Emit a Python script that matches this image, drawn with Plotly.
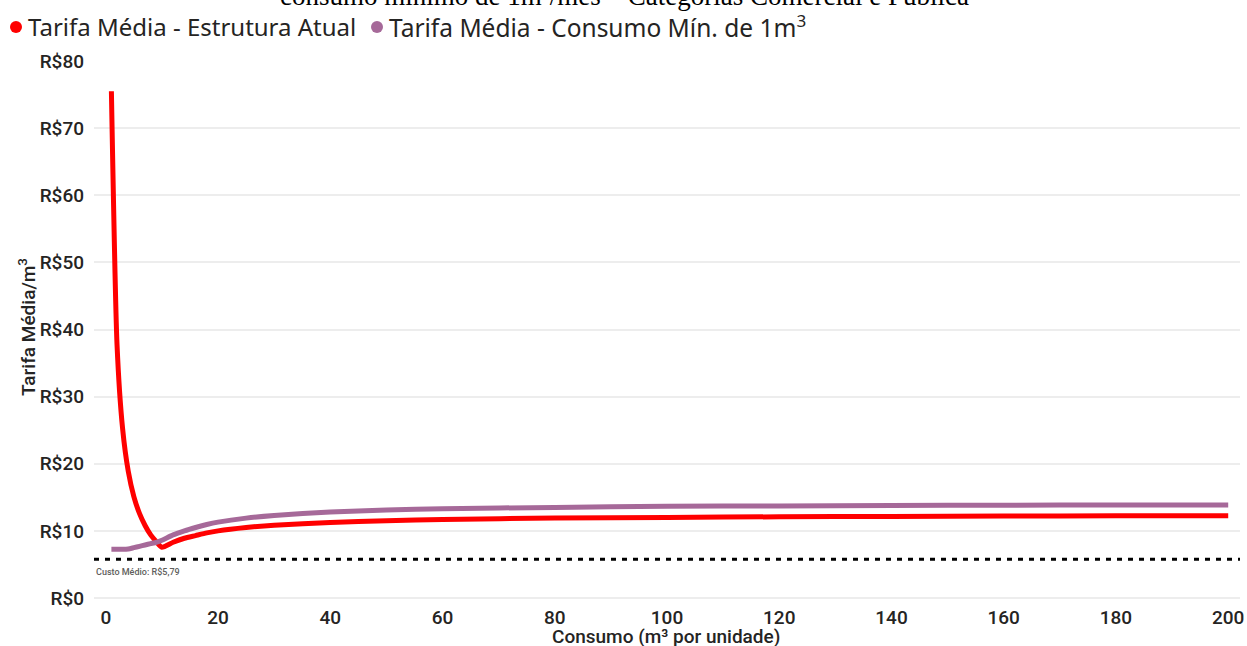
import plotly.graph_objects as go

# consumo (m³) sampled along the curves
consumo = [1, 2, 3, 4, 5, 6, 7, 8, 9, 10, 12, 14, 16, 18, 20, 25, 30, 40, 50,
           60, 80, 100, 120, 140, 160, 180, 200]

# average tariff per m³
tarifa_atual = [75.5, 37.8, 25.2, 18.9, 15.1, 12.6, 10.8, 9.4, 8.4, 7.55,
                8.3, 8.9, 9.3, 9.7, 10.0, 10.5, 10.85, 11.25, 11.5,
                11.7, 11.9, 12.0, 12.1, 12.15, 12.2, 12.25, 12.27]
tarifa_min_1m3 = [7.25, 7.25, 7.25, 7.3, 7.5, 7.7, 7.9, 8.1, 8.3, 8.6,
                  9.4, 10.0, 10.5, 10.95, 11.3, 11.9, 12.3, 12.8, 13.1,
                  13.3, 13.5, 13.65, 13.72, 13.78, 13.82, 13.85, 13.87]

custo_medio = 5.79

x_ticks = [0, 20, 40, 60, 80, 100, 120, 140, 160, 180, 200]
y_ticks = [0, 10, 20, 30, 40, 50, 60, 70, 80]
y_labels = [f"R${v}" for v in y_ticks]

series_names = ["Tarifa Média - Estrutura Atual",
                "Tarifa Média - Consumo Mín. de 1m<sup>3</sup>"]

RED = "#FF0000"
PURPLE = "#A66999"
TEXT = "#252423"
DIN = "Roboto, sans-serif"
TICK_FONT = dict(family=DIN, size=19, color=TEXT, weight=500)

# plot area in pixels (used to place the hand-made legend / titles)
W, H = 1247, 646
L, R, T, B = 94, 7, 61, 48
PW, PH = W - L - R, H - T - B


def px_x(x):
    return (x - L) / PW


def px_y(y):
    return 1 - (y - T) / PH


fig = go.Figure()

fig.add_trace(go.Scatter(
    x=consumo, y=tarifa_atual, mode="lines", name=series_names[0],
    line=dict(color=RED, width=5, shape="spline", smoothing=0.6),
))
fig.add_trace(go.Scatter(
    x=consumo, y=tarifa_min_1m3, mode="lines", name=series_names[1],
    line=dict(color=PURPLE, width=5, shape="spline", smoothing=0.6),
))

fig.add_hline(y=custo_medio, line=dict(color="black", width=3, dash="5px,6px"))
fig.add_annotation(
    x=0, xref="paper", y=custo_medio, yref="y",
    text="Custo Médio: R$5,79", showarrow=False,
    xanchor="left", yanchor="top", yshift=-6, xshift=0,
    font=dict(family=DIN, size=9, color="#605E5C", weight=500),
)

# legend: dot + label, top left
legend_pos = [(16, 26), (377, 387)]
legend_sizes = [24, 24.5]
for (dot_x, txt_x), size, name, color in zip(legend_pos, legend_sizes,
                                             series_names, [RED, PURPLE]):
    fig.add_shape(
        type="circle", xref="paper", yref="paper",
        xsizemode="pixel", ysizemode="pixel",
        xanchor=px_x(dot_x), yanchor=px_y(27),
        x0=-6, x1=6, y0=-6, y1=6,
        fillcolor=color, line_width=0,
    )
    fig.add_annotation(
        x=px_x(txt_x), xref="paper", y=px_y(27), yref="paper",
        text=name, showarrow=False, xanchor="left", yanchor="middle",
        font=dict(family="Noto Sans, sans-serif", size=size, color=TEXT),
    )

# clipped title line at the very top of the image
fig.add_annotation(
    x=px_x(624), xref="paper", y=px_y(-4), yref="paper",
    text="consumo mínimo de 1m³/mês – Categorias Comercial e Pública",
    showarrow=False, xanchor="center", yanchor="middle",
    font=dict(family="Liberation Serif, serif", size=27, color="black"),
)

# axis titles
fig.add_annotation(
    x=px_x(27), xref="paper", y=px_y(327), yref="paper",
    text="Tarifa Média/m<sup>3</sup>", textangle=-90, showarrow=False,
    xanchor="center", yanchor="middle",
    font=dict(family=DIN, size=19, color=TEXT, weight=500),
)
fig.add_annotation(
    x=px_x(666), xref="paper", y=px_y(636), yref="paper",
    text="Consumo (m³ por unidade)", showarrow=False,
    xanchor="center", yanchor="middle",
    font=dict(family=DIN, size=19, color=TEXT, weight=500),
)

fig.update_layout(
    width=W, height=H,
    margin=dict(l=L, r=R, t=T, b=B, autoexpand=False),
    plot_bgcolor="white", paper_bgcolor="white",
    showlegend=False,
)
fig.update_xaxes(
    range=[-2.1, 202.1], tickvals=x_ticks, showgrid=False, zeroline=False,
    showline=False, tickfont=TICK_FONT, ticks="", ticklabelstandoff=6,
)
fig.update_yaxes(
    range=[0, 80], tickvals=y_ticks, ticktext=y_labels,
    showgrid=True, gridcolor="#EDEDED", gridwidth=1.5,
    zeroline=True, zerolinecolor="#EDEDED", zerolinewidth=1.5,
    showline=False, tickfont=TICK_FONT, ticks="", ticklabelstandoff=9,
)

# the page's default 8px body margin would shift the whole chart
fig.write_html("out.html", config={"displayModeBar": False},
               post_script="document.body.style.margin='0';"
                           "document.body.style.overflow='hidden';")
